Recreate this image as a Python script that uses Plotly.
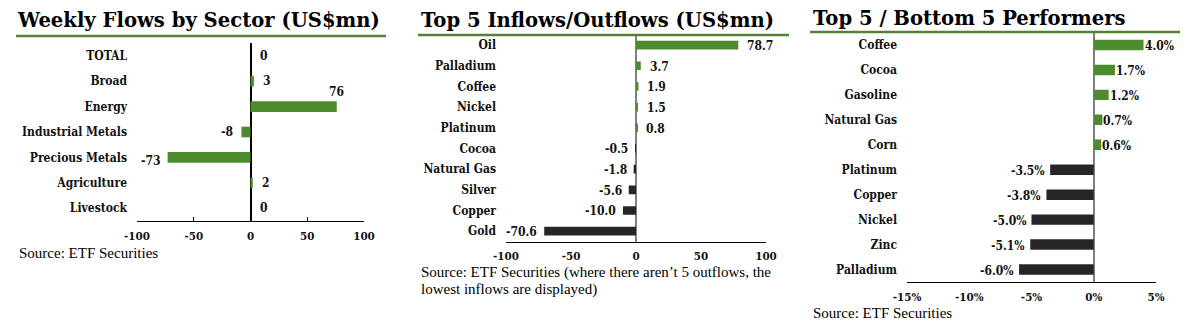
import plotly.graph_objects as go

# ---- data ----
sector_names = ["TOTAL", "Broad", "Energy", "Industrial Metals", "Precious Metals", "Agriculture", "Livestock"]
sector_flows = [0, 3, 76, -8, -73, 2, 0]

flow_names = ["Oil", "Palladium", "Coffee", "Nickel", "Platinum", "Cocoa", "Natural Gas", "Silver", "Copper", "Gold"]
flow_values = [78.7, 3.7, 1.9, 1.5, 0.8, -0.5, -1.8, -5.6, -10.0, -70.6]

perf_names = ["Coffee", "Cocoa", "Gasoline", "Natural Gas", "Corn", "Platinum", "Copper", "Nickel", "Zinc", "Palladium"]
perf_values = [4.0, 1.7, 1.2, 0.7, 0.6, -3.5, -3.8, -5.0, -5.1, -6.0]

flow_ticks = [-100, -50, 0, 50, 100]
perf_ticks = [-15, -10, -5, 0, 5]

# ---- styling ----
W, H = 1188, 322
GREEN = "#4e8b2e"
DARK = "#262626"
SERIF_B = "DejaVu Serif Condensed, DejaVu Serif"
SERIF = "Liberation Serif"
LBL = dict(family=SERIF_B, size=12, color="#111111", weight="bold")
TICK = dict(family=SERIF_B, size=11.5, color="#111111", weight="bold")


def px_x(x):
    return x / W


def px_y(y):
    return 1 - y / H


fig = go.Figure()

panels = [
    dict(names=sector_names, values=sector_flows,
         colors=[GREEN] * len(sector_flows),
         xs=(137, 364), ys=(43, 221), rng=[-100, 100], ticks=flow_ticks,
         ticktext=[str(t) for t in flow_ticks], zc="#000000", ticks_on=True),
    dict(names=flow_names, values=flow_values,
         colors=[GREEN if v > 0 else DARK for v in flow_values],
         xs=(506, 766), ys=(34.7, 241.5), rng=[-100, 100], ticks=flow_ticks,
         ticktext=[str(t) for t in flow_ticks], zc="#808080", ticks_on=False),
    dict(names=perf_names, values=perf_values,
         colors=[GREEN if v > 0 else DARK for v in perf_values],
         xs=(907, 1156), ys=(32.5, 282), rng=[-15, 5], ticks=perf_ticks,
         ticktext=[f"{t}%" for t in perf_ticks], zc="#808080", ticks_on=False),
]

for i, p in enumerate(panels, start=1):
    xa = "x" if i == 1 else f"x{i}"
    ya = "y" if i == 1 else f"y{i}"
    fig.add_trace(go.Bar(
        x=p["values"], y=p["names"], orientation="h",
        marker=dict(color=p["colors"], line=dict(width=0)),
        width=0.42, xaxis=xa, yaxis=ya, hoverinfo="skip",
    ))
    xkey = "xaxis" if i == 1 else f"xaxis{i}"
    ykey = "yaxis" if i == 1 else f"yaxis{i}"
    fig.update_layout(**{
        xkey: dict(
            domain=[px_x(p["xs"][0]), px_x(p["xs"][1])], range=p["rng"],
            anchor=ya, showgrid=False, zeroline=True, zerolinecolor=p["zc"], zerolinewidth=1.5,
            showline=True, linecolor="#000000", linewidth=1,
            tickmode="array", tickvals=p["ticks"], ticktext=p["ticktext"],
            ticks="inside" if p["ticks_on"] else "", ticklen=4, tickcolor="#000000",
            tickfont=TICK, ticklabelstandoff=4, fixedrange=True, automargin=False,
        ),
        ykey: dict(
            domain=[px_y(p["ys"][1]), px_y(p["ys"][0])],
            anchor=xa, autorange="reversed", type="category",
            categoryorder="array", categoryarray=p["names"],
            showgrid=False, zeroline=False, showline=False, ticks="",
            tickfont=LBL, ticklabelstandoff=9, fixedrange=True, automargin=False,
        ),
    })

annotations = []

# value labels for the sector chart
for name, v in zip(sector_names, sector_flows):
    a = dict(x=v, y=name, xref="x", yref="y", text=str(v), showarrow=False, font=LBL)
    if name == "Energy":
        a.update(xanchor="center", yanchor="bottom", yshift=6)
    elif name == "Precious Metals":
        a.update(xanchor="right", xshift=-5, yshift=-4)
    elif v < 0:
        a.update(xanchor="right", xshift=-6)
    else:
        a.update(xanchor="left", xshift=7)
    annotations.append(a)

# value labels for inflows/outflows
for name, v in zip(flow_names, flow_values):
    annotations.append(dict(
        x=v, y=name, xref="x2", yref="y2", text=f"{v:.1f}", showarrow=False, font=LBL,
        xanchor="left" if v > 0 else "right", xshift=7 if v > 0 else -5, yshift=-1,
    ))

# value labels for performers
for name, v in zip(perf_names, perf_values):
    annotations.append(dict(
        x=v, y=name, xref="x3", yref="y3", text=f"{v:.1f}%", showarrow=False, font=LBL,
        xanchor="left" if v > 0 else "right", xshift=-1 if v > 0 else -3, yshift=-1,
    ))

# panel titles
titles = [("Weekly Flows by Sector (US$mn)", 15, 20),
          ("Top 5 Inflows/Outflows (US$mn)", 419, 20),
          ("Top 5 / Bottom 5 Performers", 811, 18)]
for text, x, y in titles:
    annotations.append(dict(
        x=px_x(x), y=px_y(y), xref="paper", yref="paper", text=text, showarrow=False,
        xanchor="left", yanchor="middle",
        font=dict(family="DejaVu Serif", size=19.6, color="#000000", weight="bold"),
    ))

# source notes (the middle note runs over two lines)
sources = [("Source: ETF Securities", 18, 253),
           ("Source: ETF Securities (where there aren’t 5 outflows, the", 420, 272),
           ("lowest inflows are displayed)", 420, 289),
           ("Source: ETF Securities", 812, 313)]
for text, x, y in sources:
    annotations.append(dict(
        x=px_x(x), y=px_y(y), xref="paper", yref="paper", text=text, showarrow=False,
        xanchor="left", yanchor="middle", align="left", borderpad=0,
        font=dict(family=SERIF, size=15, color="#000000"),
    ))

# green rules under the titles
shapes = []
for x0, x1, y in [(16, 386, 36), (418, 789, 35), (810, 1180, 32)]:
    shapes.append(dict(type="line", xref="paper", yref="paper",
                       x0=px_x(x0), x1=px_x(x1), y0=px_y(y), y1=px_y(y),
                       line=dict(color="#548235", width=2.5)))

fig.update_layout(
    width=W, height=H, margin=dict(l=0, r=0, t=0, b=0),
    paper_bgcolor="#ffffff", plot_bgcolor="#ffffff",
    showlegend=False, bargap=0.58,
    annotations=annotations, shapes=shapes,
)

fig.write_html("out.html", config={"displayModeBar": False})
